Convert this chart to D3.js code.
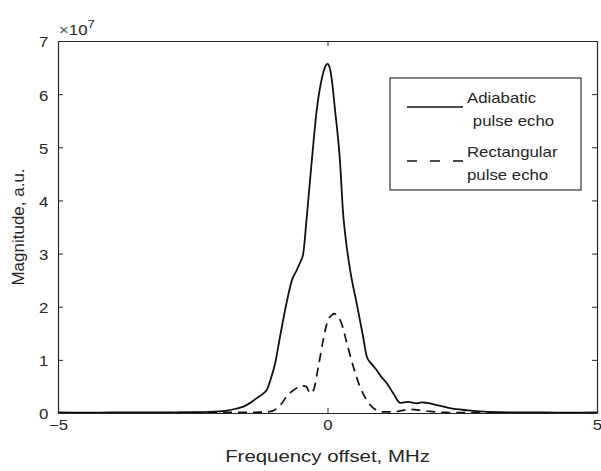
<!DOCTYPE html>
<html>
<head>
<meta charset="utf-8">
<script src="https://cdn.jsdelivr.net/npm/d3@7"></script>
<style>
  body { margin: 0; background: #fff; }
  text { font-family: "Liberation Sans", Arial, sans-serif; fill: #262626; }
</style>
</head>
<body>
<div id="chart"></div>
<script>
// magnitude values are in units of 1e7 (axis multiplier shown top-left)
const adiabaticX = [-5, -4.5, -4, -3.5, -3, -2.5, -2.2, -1.9, -1.7, -1.56, -1.42, -1.31, -1.2, -1.13, -1.05, -0.97,
    -0.88, -0.76, -0.66, -0.57, -0.5, -0.45, -0.39, -0.34, -0.29, -0.2, -0.11, -0.05, 0, 0.04, 0.08, 0.14, 0.23,
    0.29, 0.34, 0.42, 0.54, 0.66, 0.73, 0.82, 0.91, 1.0, 1.1, 1.22, 1.35, 1.42, 1.5, 1.65, 1.75, 1.84, 2.03, 2.27,
    2.6, 3.0, 3.5, 4, 4.5, 5];
const adiabaticY = [0.01, 0.005, 0.01, 0.01, 0.01, 0.015, 0.02, 0.04, 0.08, 0.12, 0.2, 0.28, 0.36, 0.43, 0.65, 0.94,
    1.44, 2.07, 2.5, 2.69, 2.85, 3.0, 3.63, 4.2, 4.76, 5.7, 6.27, 6.5, 6.57, 6.5, 6.27, 5.7, 4.76,
    3.75, 3.26, 2.69, 2.07, 1.44, 1.06, 0.92, 0.81, 0.68, 0.56, 0.37, 0.19, 0.2, 0.21, 0.18, 0.2, 0.19, 0.15, 0.09,
    0.05, 0.02, 0.01, 0.01, 0.005, 0.01];

const rectX = [-5, -4, -3, -2, -1.5, -1.1, -0.93, -0.85, -0.76, -0.63, -0.55, -0.48, -0.4, -0.32, -0.26, -0.17,
    -0.08, 0.01, 0.08, 0.12, 0.17, 0.26, 0.36, 0.48, 0.6, 0.73, 0.88, 1.04, 1.2, 1.35, 1.53, 1.65, 1.9, 2.2, 3, 4, 5];
const rectY = [0, 0.005, 0.005, 0.01, 0.01, 0.02, 0.09, 0.18, 0.31, 0.43, 0.48, 0.51, 0.5, 0.37, 0.43, 0.87,
    1.37, 1.75, 1.84, 1.87, 1.84, 1.69, 1.31, 0.87, 0.5, 0.24, 0.07, 0.02, 0.02, 0.04, 0.07, 0.06, 0.03, 0.01, 0.005, 0, 0];

const xTicks = [-5, 0, 5];
const yTicks = [0, 1, 2, 3, 4, 5, 6, 7];
const legendLabels = [["Adiabatic", " pulse echo"], ["Rectangular", "pulse echo"]];

const win_width = 601, win_height = 471;
const margin = {top: 41, right: 4, bottom: 58, left: 58};
const width = win_width - margin.left - margin.right;
const height = win_height - margin.top - margin.bottom;
const stretch = "scale(1.2,1)";  // the reference text is drawn wide

const svg = d3.select("#chart").append("svg")
    .attr("width", win_width)
    .attr("height", win_height);

const g = svg.append("g")
    .attr("transform", "translate(" + margin.left + "," + margin.top + ")");

const x = d3.scaleLinear().domain([-5, 5]).range([0, width]);
const y = d3.scaleLinear().domain([0, 7]).range([height, 0]);

// curves
const adiabatic = adiabaticX.map((v, i) => [v, adiabaticY[i]]);
const rect = rectX.map((v, i) => [v, rectY[i]]);
const line = d3.line().x(d => x(d[0])).y(d => y(d[1])).curve(d3.curveMonotoneX);

g.append("path").datum(rect)
    .attr("fill", "none").attr("stroke", "#111").attr("stroke-width", 1.7)
    .attr("stroke-dasharray", "9,6")
    .attr("d", line);

g.append("path").datum(adiabatic)
    .attr("fill", "none").attr("stroke", "#111").attr("stroke-width", 1.8)
    .attr("d", line);

// axes, MATLAB style box with inward ticks
function styleAxis(sel) {
    sel.select(".domain").attr("stroke", "#262626").attr("stroke-width", 1.2);
    sel.selectAll(".tick line").attr("stroke", "#262626").attr("stroke-width", 1);
    sel.selectAll("text").attr("font-size", 14).style("font-family", "'Liberation Sans', Arial, sans-serif")
        .attr("fill", "#262626");
}

const xAxis = g.append("g").attr("transform", "translate(0," + height + ")")
    .call(d3.axisBottom(x).tickValues(xTicks).tickSize(-5).tickSizeOuter(0).tickPadding(17).tickFormat(d3.format("d")))
    .call(styleAxis);
xAxis.selectAll("text").attr("dy", "0").attr("transform", stretch);

const yAxis = g.append("g")
    .call(d3.axisLeft(y).tickValues(yTicks).tickSize(-5).tickSizeOuter(0).tickPadding(8).tickFormat(d3.format("d")))
    .call(styleAxis);
yAxis.selectAll("text").attr("dy", "0.42em").attr("transform", stretch);

g.append("g")
    .call(d3.axisTop(x).tickValues(xTicks).tickSize(-5).tickSizeOuter(0).tickFormat(""))
    .call(styleAxis);
g.append("g").attr("transform", "translate(" + width + ",0)")
    .call(d3.axisRight(y).tickValues(yTicks).tickSize(-5).tickSizeOuter(0).tickFormat(""))
    .call(styleAxis);

// exponent label
const expo = g.append("text")
    .attr("transform", "translate(1,-6) " + stretch)
    .attr("font-size", 14);
expo.append("tspan").text("\u00d7").attr("fill", "#555");
expo.append("tspan").text("10");
expo.append("tspan").text("7").attr("font-size", 11).attr("dy", -7);

// axis titles
g.append("text")
    .attr("transform", "translate(" + (width / 2) + "," + (height + 49) + ") " + stretch)
    .attr("text-anchor", "middle")
    .attr("font-size", 17)
    .text("Frequency offset, MHz");

g.append("text")
    .attr("transform", "translate(-34," + (height / 2) + ") rotate(-90)")
    .attr("text-anchor", "middle")
    .attr("font-size", 17)
    .text("Magnitude, a.u.");

// legend
const legend = svg.append("g").attr("transform", "translate(390,78)");
legend.append("rect")
    .attr("width", 191).attr("height", 112)
    .attr("fill", "#fff").attr("stroke", "#333").attr("stroke-width", 1.2);

legendLabels.forEach(function (labels, i) {
    const ly = 29 + i * 54;
    legend.append("line")
        .attr("x1", 17).attr("x2", 73).attr("y1", ly).attr("y2", ly)
        .attr("stroke", "#111").attr("stroke-width", 1.7)
        .attr("stroke-dasharray", i === 0 ? null : "10,13");
    const t = legend.append("text")
        .attr("transform", "translate(77," + (ly - 4) + ") " + stretch)
        .attr("font-size", 14)
        .attr("xml:space", "preserve");
    t.append("tspan").attr("x", 0).attr("dy", 0).text(labels[0]);
    t.append("tspan").attr("x", i === 0 ? 1 : 0).attr("dy", 23).text(labels[1]);
});
</script>
</body>
</html>
